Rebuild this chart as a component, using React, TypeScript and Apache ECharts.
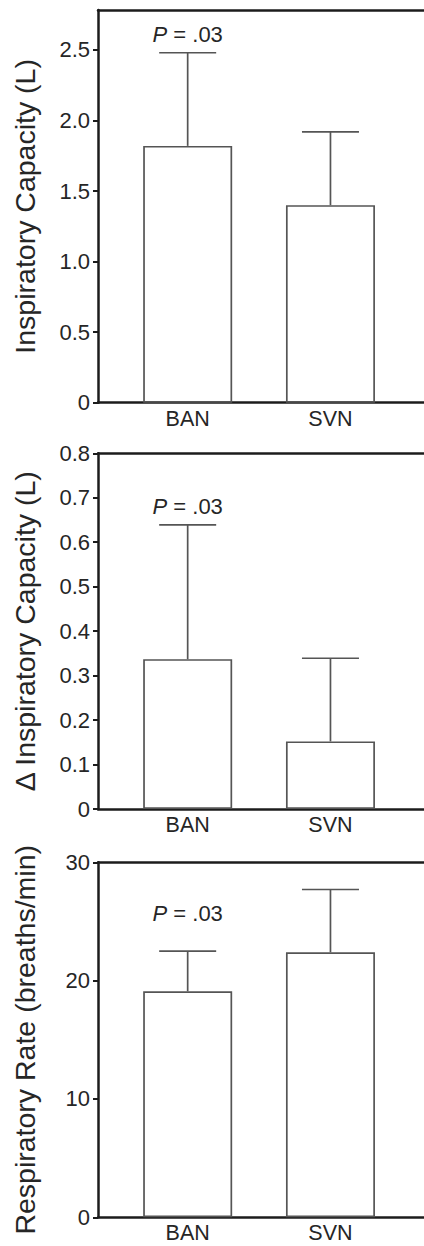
import React, { useEffect, useRef } from "react";
import * as echarts from "echarts";

const categories = ["BAN", "SVN"];
const catPos = [1, 2];

const icMean = [1.82, 1.4];
const icUpper = [2.48, 1.92];
const icTicks = [0, 0.5, 1.0, 1.5, 2.0, 2.5];

const dIcMean = [0.337, 0.152];
const dIcUpper = [0.639, 0.339];
const dIcTicks = [0, 0.1, 0.2, 0.3, 0.4, 0.5, 0.6, 0.7, 0.8];

const rrMean = [19.1, 22.4];
const rrUpper = [22.5, 27.7];
const rrTicks = [0, 10, 20, 30];

const FONT = "'Liberation Sans', Arial, Helvetica, sans-serif";
const AXIS_COLOR = "#1c1c1c";
const BAR_COLOR = "#555555";
const TEXT_COLOR = "#262626";

type Panel = {
  title: string;
  mean: number[];
  upper: number[];
  ticks: number[];
  max: number;
  pY: number;
  fmt: (v: number) => string;
  top: number;
  height: number;
};

const panels: Panel[] = [
  {
    title: "Inspiratory Capacity (L)",
    mean: icMean,
    upper: icUpper,
    ticks: icTicks,
    max: 2.783,
    pY: 2.61,
    fmt: (v) => (v === 0 ? "0" : v.toFixed(1)),
    top: 10,
    height: 392.7,
  },
  {
    title: "\u0394 Inspiratory Capacity (L)",
    mean: dIcMean,
    upper: dIcUpper,
    ticks: dIcTicks,
    max: 0.8,
    pY: 0.68,
    fmt: (v) => (v === 0 ? "0" : v.toFixed(1)),
    top: 453.3,
    height: 355.7,
  },
  {
    title: "Respiratory Rate (breaths/min)",
    mean: rrMean,
    upper: rrUpper,
    ticks: rrTicks,
    max: 30,
    pY: 25.7,
    fmt: (v) => String(v),
    top: 862.3,
    height: 355,
  },
];

export default function App() {
  const ref = useRef<HTMLDivElement>(null);
  useEffect(() => {
    if (!ref.current) return;
    const chart = echarts.init(ref.current, undefined, { renderer: "svg" });

    const grid: any[] = [];
    const xAxis: any[] = [];
    const yAxis: any[] = [];
    const series: any[] = [];

    panels.forEach((p, i) => {
      grid.push({
        left: 98,
        right: 0,
        top: p.top,
        height: p.height,
        outerBoundsMode: "none",
        containLabel: false,
      });
      xAxis.push({
        type: "value",
        gridIndex: i,
        min: 0.372,
        max: 2.655,
        axisLine: { show: true, onZero: false, lineStyle: { color: AXIS_COLOR, width: 2.5 } },
        axisTick: { show: false },
        splitLine: { show: false },
        axisLabel: {
          customValues: catPos,
          formatter: (v: number) => categories[Math.round(v) - 1] ?? "",
          color: TEXT_COLOR,
          fontFamily: FONT,
          fontSize: 21.5,
          lineHeight: 22,
          margin: 5,
        },
      });
      // top frame line
      xAxis.push({
        type: "value",
        gridIndex: i,
        position: "top",
        min: 0.372,
        max: 2.655,
        axisLine: { show: true, onZero: false, lineStyle: { color: AXIS_COLOR, width: 2.5 } },
        axisTick: { show: false },
        axisLabel: { show: false },
        splitLine: { show: false },
      });
      yAxis.push({
        type: "value",
        gridIndex: i,
        min: 0,
        max: p.max,
        name: p.title,
        nameLocation: "middle",
        nameGap: 59,
        nameTextStyle: { color: TEXT_COLOR, fontFamily: FONT, fontSize: 28.5 },
        axisLine: { show: true, lineStyle: { color: AXIS_COLOR, width: 2.5 } },
        axisTick: {
          show: true,
          customValues: p.ticks,
          length: 5,
          lineStyle: { color: AXIS_COLOR, width: 2 },
        },
        splitLine: { show: false },
        axisLabel: {
          customValues: p.ticks,
          formatter: p.fmt,
          color: TEXT_COLOR,
          fontFamily: FONT,
          fontSize: 22,
          margin: 8,
        },
      });
      series.push({
        type: "bar",
        xAxisIndex: i * 2,
        yAxisIndex: i,
        barWidth: 89,
        data: catPos.map((x, k) => [x, p.mean[k]]),
        itemStyle: { color: "#ffffff", borderColor: BAR_COLOR, borderWidth: 1.7 },
        emphasis: { disabled: true },
        markPoint: {
          symbol: "circle",
          symbolSize: 0,
          silent: true,
          data: [
            {
              coord: [catPos[0], p.pY],
              label: {
                show: true,
                position: "inside",
                formatter: "{i|P}{n| = .03}",
                rich: {
                  i: { fontStyle: "italic", fontFamily: FONT, fontSize: 22, color: TEXT_COLOR },
                  n: { fontFamily: FONT, fontSize: 22, color: TEXT_COLOR },
                },
              },
            },
          ],
        },
      });
      series.push({
        type: "custom",
        xAxisIndex: i * 2,
        yAxisIndex: i,
        z: 5,
        data: catPos.map((x, k) => [x, p.mean[k], p.upper[k]]),
        encode: { x: 0, y: [1, 2] },
        renderItem: (params: any, api: any) => {
          const x = api.value(0);
          const a = api.coord([x, api.value(1)]);
          const b = api.coord([x, api.value(2)]);
          const half = 28.5;
          const style = { stroke: BAR_COLOR, lineWidth: 1.7 };
          return {
            type: "group",
            children: [
              { type: "line", shape: { x1: a[0], y1: a[1], x2: b[0], y2: b[1] }, style },
              { type: "line", shape: { x1: b[0] - half, y1: b[1], x2: b[0] + half, y2: b[1] }, style },
            ],
          };
        },
      });
    });

    chart.setOption({
      animation: false,
      backgroundColor: "#ffffff",
      grid,
      xAxis,
      yAxis,
      series,
    });
    return () => chart.dispose();
  }, []);

  return (
    <div
      ref={ref}
      style={{ position: "absolute", left: 0, top: 0, width: 424, height: 1246 }}
    />
  );
}
